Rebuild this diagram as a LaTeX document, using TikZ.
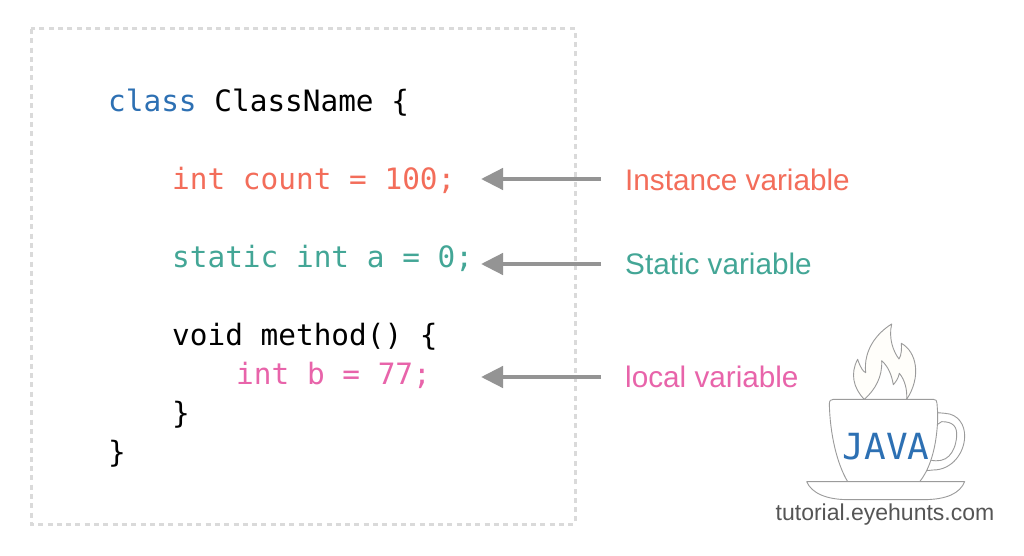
\documentclass[tikz,border=0pt]{standalone}
\usepackage{fontspec}
\usepackage{xcolor}
\usetikzlibrary{arrows.meta}
\setmainfont{Liberation Sans}
\setmonofont{DejaVu Sans Mono}
\definecolor{keywordblue}{RGB}{45,112,179}
\definecolor{instancered}{RGB}{243,109,90}
\definecolor{staticgreen}{RGB}{67,166,150}
\definecolor{localpink}{RGB}{232,100,170}
\definecolor{arrowgray}{RGB}{148,148,148}
\definecolor{framegray}{RGB}{218,218,218}
\definecolor{cupgray}{RGB}{155,155,155}
\definecolor{flamecream}{RGB}{255,254,250}
\definecolor{sitegray}{RGB}{85,85,85}

\tikzset{
    codeline/.style={anchor=base west, inner sep=0pt, font=\fontsize{29.4}{32}\selectfont\ttfamily},
    varlabel/.style={anchor=base west, inner sep=0pt, font=\fontsize{29.7}{32}\selectfont},
    pointer/.style={-{Triangle[length=22pt,width=21pt]}, line width=4.5pt, arrowgray},
    cupline/.style={draw=cupgray, line width=0.9pt, line join=round}
}

\begin{document}
\begin{tikzpicture}[x=1pt, y=-1pt]
    \useasboundingbox (0,0) rectangle (1024,556);
    \fill[white] (0,0) rectangle (1024,556);

    % Dotted frame round the code
    \draw[framegray, line width=3pt, dash pattern=on 5pt off 4.3pt] (31,29) rectangle (575,524);

    % Code lines
    \node(classline)[codeline] at (108,111.5) {\textcolor{keywordblue}{class} ClassName \{};
    \node(countline)[codeline, text=instancered] at (172,189.5) {int count = 100;};
    \node(staticline)[codeline, text=staticgreen] at (172,267.5) {static int a = 0;};
    \node(methodline)[codeline] at (172,345.5) {void method() \{};
    \node(localline)[codeline, text=localpink] at (236,384.5) {int b = 77;};
    \node(innerclose)[codeline] at (172,423) {\}};
    \node(outerclose)[codeline] at (108,462) {\}};

    % Labels on the right
    \node(instancelabel)[varlabel, text=instancered] at (625,190) {Instance variable};
    \node(staticlabel)[varlabel, text=staticgreen] at (625,274) {Static variable};
    \node(locallabel)[varlabel, text=localpink] at (625,387) {local variable};

    % Arrows from the labels to the code
    \coordinate (instancetip) at (481,179);
    \coordinate (statictip) at (481,264);
    \coordinate (localtip) at (481,377);
    \coordinate (instancetail) at (601,179);
    \coordinate (statictail) at (601,264);
    \coordinate (localtail) at (601,377);
    \draw[pointer] (instancetail) -- (instancetip);
    \draw[pointer] (statictail) -- (statictip);
    \draw[pointer] (localtail) -- (localtip);

    % Flame
    \begin{scope}[shift={(770,310)}, x=0.3333pt, y=-0.3333pt]
        \draw[cupline, fill=flamecream] (283,268)
            .. controls (250,235) and (240,190) .. (263,148)
            .. controls (272,175) and (280,185) .. (287,188)
            .. controls (280,120) and (320,70) .. (365,42)
            .. controls (355,85) and (370,125) .. (387,147)
            .. controls (395,135) and (395,115) .. (394,100)
            .. controls (440,125) and (455,200) .. (410,268)
            .. controls (412,240) and (405,210) .. (388,190)
            .. controls (385,205) and (378,215) .. (370,224)
            .. controls (365,195) and (355,170) .. (335,152)
            .. controls (338,200) and (315,240) .. (283,268) -- cycle;

        % Handle, then the cup, then the saucer
        \draw[cupline, fill=white] (503,308) -- (525,310)
            .. controls (565,312) and (585,345) .. (584,380)
            .. controls (583,430) and (545,480) .. (490,480) -- (470,482)
            -- (480,450)
            .. controls (530,462) and (555,430) .. (560,380)
            .. controls (562,350) and (550,335) .. (515,335) -- (500,345) -- cycle;
        \draw[cupline, fill=white] (190,268) -- (490,268)
            .. controls (498,268) and (501,272) .. (501,280) -- (503,308)
            -- (503,330)
            .. controls (500,400) and (485,470) .. (449,515)
            -- (233,515)
            .. controls (200,460) and (180,370) .. (178,282)
            .. controls (178,272) and (182,268) .. (190,268) -- cycle;
        \draw[cupline, fill=white] (110,515) -- (233,515) -- (449,515) -- (584,515)
            .. controls (570,550) and (530,569) .. (460,569)
            -- (235,569)
            .. controls (170,569) and (125,550) .. (110,515) -- cycle;
    \end{scope}

    \node(javalabel)[anchor=base, inner sep=0pt, text=keywordblue, font=\fontsize{36}{38}\selectfont\ttfamily] at (886,459.5) {JAVA};
    \node(sitelabel)[anchor=base, inner sep=0pt, text=sitegray, font=\fontsize{23}{26}\selectfont] at (885,520) {tutorial.eyehunts.com};
\end{tikzpicture}
\end{document}
